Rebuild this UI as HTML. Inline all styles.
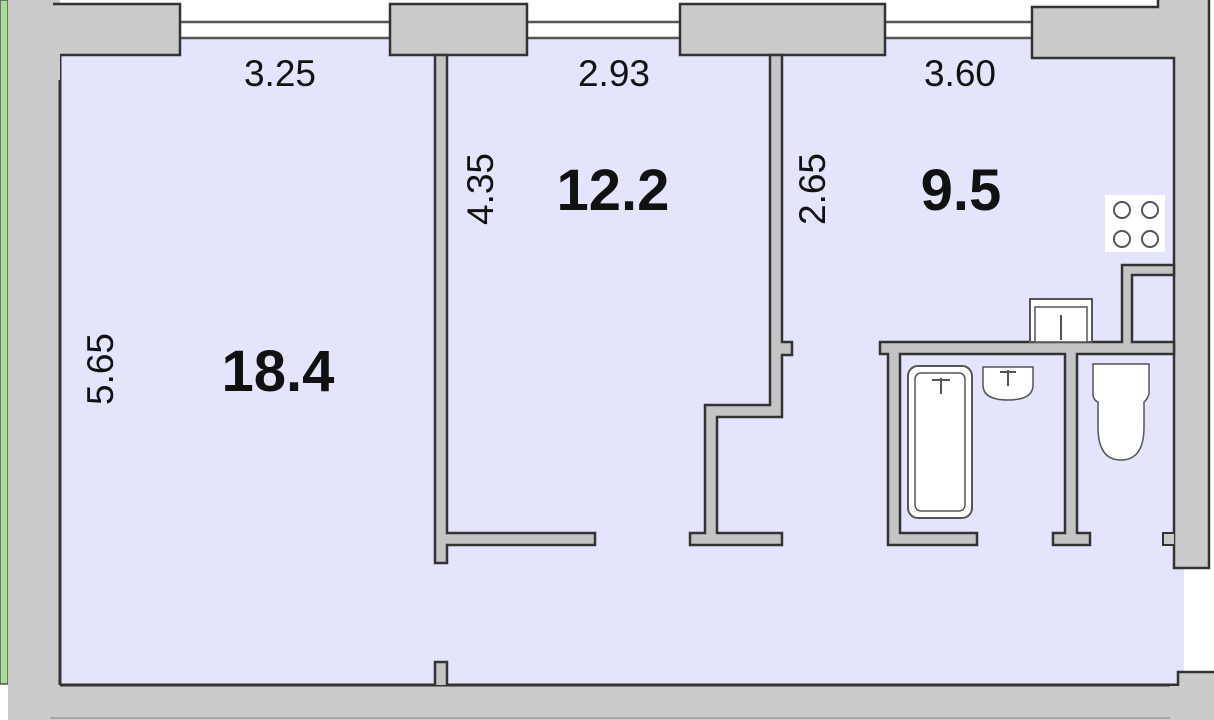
<!DOCTYPE html>
<html><head><meta charset="utf-8"><style>
html,body{margin:0;padding:0;background:#fff;}
svg{display:block;}
text{font-family:"Liberation Sans",Arial,sans-serif;fill:#111;}
</style></head><body>
<svg width="1214" height="720" viewBox="0 0 1214 720" xmlns="http://www.w3.org/2000/svg">
<rect x="0" y="0" width="1214" height="720" fill="#fff"/>
<!-- floor -->
<rect x="60" y="38" width="1124" height="648" fill="#e4e4fc"/>
<!-- green strip -->
<rect x="0" y="0" width="8" height="684" fill="#a8dc98" stroke="#555" stroke-width="1.5"/>
<!-- left wall -->
<rect x="8" y="0" width="52" height="720" fill="#cacaca"/>
<line x1="60" y1="55" x2="60" y2="685" stroke="#333" stroke-width="3"/>
<!-- bottom wall -->
<rect x="8" y="685" width="1206" height="35" fill="#cacaca"/>
<line x1="60" y1="685" x2="1180" y2="685" stroke="#333" stroke-width="3"/>
<line x1="50" y1="718" x2="1214" y2="718" stroke="#999" stroke-width="1.5"/>
<rect x="1178" y="672" width="40" height="50" fill="#cacaca" stroke="#333" stroke-width="2.5"/>
<rect x="1170" y="686" width="46" height="34" fill="#cacaca"/>
<!-- window lines -->
<g stroke="#555" stroke-width="2.5">
<line x1="170" y1="22" x2="1040" y2="22"/>
<line x1="170" y1="38" x2="1040" y2="38"/>
</g>
<!-- top blocks -->
<g fill="#cacaca" stroke="#333" stroke-width="2.5">
<path d="M8 -2 L53 -2 L53 4 L180 4 L180 55 L60 55 L60 80 L8 80 Z" stroke="none"/>
<path d="M53 4 L180 4 L180 55 L60 55" fill="none"/>
<rect x="390" y="4" width="137" height="51"/>
<rect x="680" y="4" width="205" height="51"/>
<path d="M1158 -2 L1158 7 L1032 7 L1032 58 L1174 58 L1174 568 L1209 568 L1209 -2 Z"/>
</g>
<line x1="1209" y1="0" x2="1209" y2="568" stroke="#333" stroke-width="2"/>
<path d="M1174 533 L1163 533 L1163 545 L1174 545" fill="#cacaca" stroke="#333" stroke-width="2"/>
<!-- interior walls -->
<g fill="#c4c4c4" stroke="#333" stroke-width="2.5" stroke-linejoin="miter">
<path d="M435 55 L447 55 L447 533 L595 533 L595 545 L447 545 L447 563 L435 563 Z"/>
<path d="M435 685 L435 662 L447 662 L447 685"/>
<path d="M770 55 L782 55 L782 342 L792 342 L792 355 L782 355 L782 417 L717 417 L717 533 L782 533 L782 545 L690 545 L690 533 L705 533 L705 405 L770 405 Z"/>
<path d="M1174 342 L1174 354 L1077 354 L1077 533 L1090 533 L1090 545 L1053 545 L1053 533 L1065 533 L1065 354 L900 354 L900 533 L977 533 L977 545 L888 545 L888 354 L880 354 L880 342 L1122 342 L1122 265 L1174 265 L1174 275 L1132 275 L1132 342 Z"/>
</g>
<!-- stove -->
<rect x="1105" y="195" width="60" height="57" fill="#fff"/>
<g fill="none" stroke="#555" stroke-width="2">
<circle cx="1122" cy="210" r="8"/><circle cx="1150" cy="210" r="8"/>
<circle cx="1122" cy="239" r="8"/><circle cx="1150" cy="239" r="8"/>
</g>
<!-- kitchen sink -->
<rect x="1030" y="299" width="62" height="43" fill="#fff" stroke="#555" stroke-width="2"/>
<rect x="1035" y="307" width="52" height="35" fill="#fff" stroke="#555" stroke-width="1.5"/>
<line x1="1061" y1="315" x2="1061" y2="340" stroke="#555" stroke-width="2"/>
<!-- bath -->
<rect x="908" y="366" width="64" height="152" rx="10" fill="#fff" stroke="#555" stroke-width="2"/>
<rect x="915" y="373" width="50" height="138" rx="6" fill="#fff" stroke="#555" stroke-width="1.5"/>
<path d="M932 380 h18 M941 378 v16" stroke="#555" stroke-width="2"/>
<!-- small sink -->
<path d="M983 367 h50 v18 q0 15 -25 15 q-25 0 -25 -15 Z" fill="#fff" stroke="#555" stroke-width="1.5"/>
<path d="M1000 372 h16 M1008 370 v16" stroke="#555" stroke-width="2"/>
<!-- toilet -->
<path d="M1093 364 h56 v30 q-2 6 -5 8 v25 q0 33 -23 33 q-23 0 -23 -33 v-25 q-5 -2 -5 -8 Z" fill="#fff" stroke="#555" stroke-width="1.5"/>
<!-- labels -->
<g font-size="37" text-anchor="middle" style="fill:#2a2a2a">
<text x="280" y="86">3.25</text>
<text x="614" y="86">2.93</text>
<text x="960" y="86">3.60</text>
<text transform="translate(113,369) rotate(-90)">5.65</text>
<text transform="translate(493,189) rotate(-90)">4.35</text>
<text transform="translate(825,189) rotate(-90)">2.65</text>
</g>
<g font-size="58" font-weight="bold" text-anchor="middle">
<text x="278" y="391">18.4</text>
<text x="613" y="210">12.2</text>
<text x="961" y="210">9.5</text>
</g>
</svg>
</body></html>
